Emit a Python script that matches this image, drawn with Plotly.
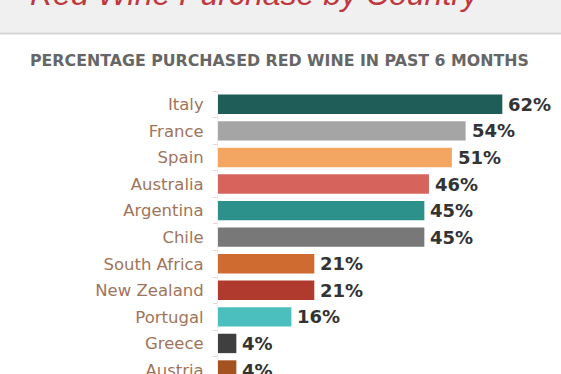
import plotly.graph_objects as go

countries = ["Italy", "France", "Spain", "Australia", "Argentina", "Chile",
             "South Africa", "New Zealand", "Portugal", "Greece", "Austria"]
values = [62, 54, 51, 46, 45, 45, 21, 21, 16, 4, 4]
colors = ["#1f5d58", "#a5a5a5", "#f2a662", "#d6645c", "#2b918a", "#787878",
          "#cf6a30", "#b13a2f", "#4abfbd", "#3f3f3f", "#a4521f"]
title_text = "Red Wine Purchase by Country"
subtitle_text = "PERCENTAGE PURCHASED RED WINE IN PAST 6 MONTHS"

W, H = 561, 374
L, R, T, B = 218, 22, 91, 0
PW, PH = W - L - R, H - T - B

def px_x(px):
    return (px - L) / PW

def px_y(py):
    return (H - B - py) / PH

fig = go.Figure()
fig.add_trace(go.Bar(
    x=values, y=countries, orientation="h",
    marker=dict(color=colors, line=dict(width=0)),
    hoverinfo="skip", cliponaxis=False,
))

annotations = []
for c, v in zip(countries, values):
    annotations.append(dict(
        x=v, y=c, xref="x", yref="y", text=f"{v}%", showarrow=False,
        xanchor="left", yanchor="middle", xshift=4,
        font=dict(family="DejaVu Sans", size=18, color="#333333", weight="bold"),
    ))

annotations.append(dict(
    x=px_x(255), y=px_y(14), xref="paper", yref="paper", text=title_text,
    showarrow=False, xanchor="center", yanchor="bottom",
    font=dict(family="Liberation Sans", size=32, color="#c0383f", style="italic"),
))
annotations.append(dict(
    x=px_x(279), y=px_y(60), xref="paper", yref="paper", text=subtitle_text,
    showarrow=False, xanchor="center", yanchor="middle",
    font=dict(family="DejaVu Sans", size=15.8, color="#666666", weight="bold"),
))

shapes = [
    dict(type="rect", xref="paper", yref="paper", x0=px_x(-5), x1=px_x(570),
         y0=px_y(32.5), y1=px_y(-5), fillcolor="#f0f0f0", line=dict(width=0), layer="below"),
    dict(type="rect", xref="paper", yref="paper", x0=px_x(-5), x1=px_x(570),
         y0=px_y(34.5), y1=px_y(32.5), fillcolor="#d4d4d4", line=dict(width=0), layer="below"),
]

fig.update_layout(
    width=W, height=H,
    margin=dict(l=L, r=R, t=T, b=B, pad=0),
    paper_bgcolor="white", plot_bgcolor="white",
    showlegend=False, bargap=0.27,
    annotations=annotations, shapes=shapes,
    xaxis=dict(range=[0, 70], visible=False, fixedrange=True),
    yaxis=dict(
        type="category", categoryorder="array", categoryarray=countries,
        range=[10.15, -0.5], automargin=False,
        ticks="outside", ticklen=4, tickcolor="#ecd2d2", tickwidth=1,
        tickson="boundaries", ticklabelstandoff=10,
        showline=True, linecolor="#f4ecec", linewidth=1,
        showgrid=False, zeroline=False,
        tickfont=dict(family="DejaVu Sans", size=16.5, color="#a0745a"),
    ),
)

fig.write_html("out.html")
